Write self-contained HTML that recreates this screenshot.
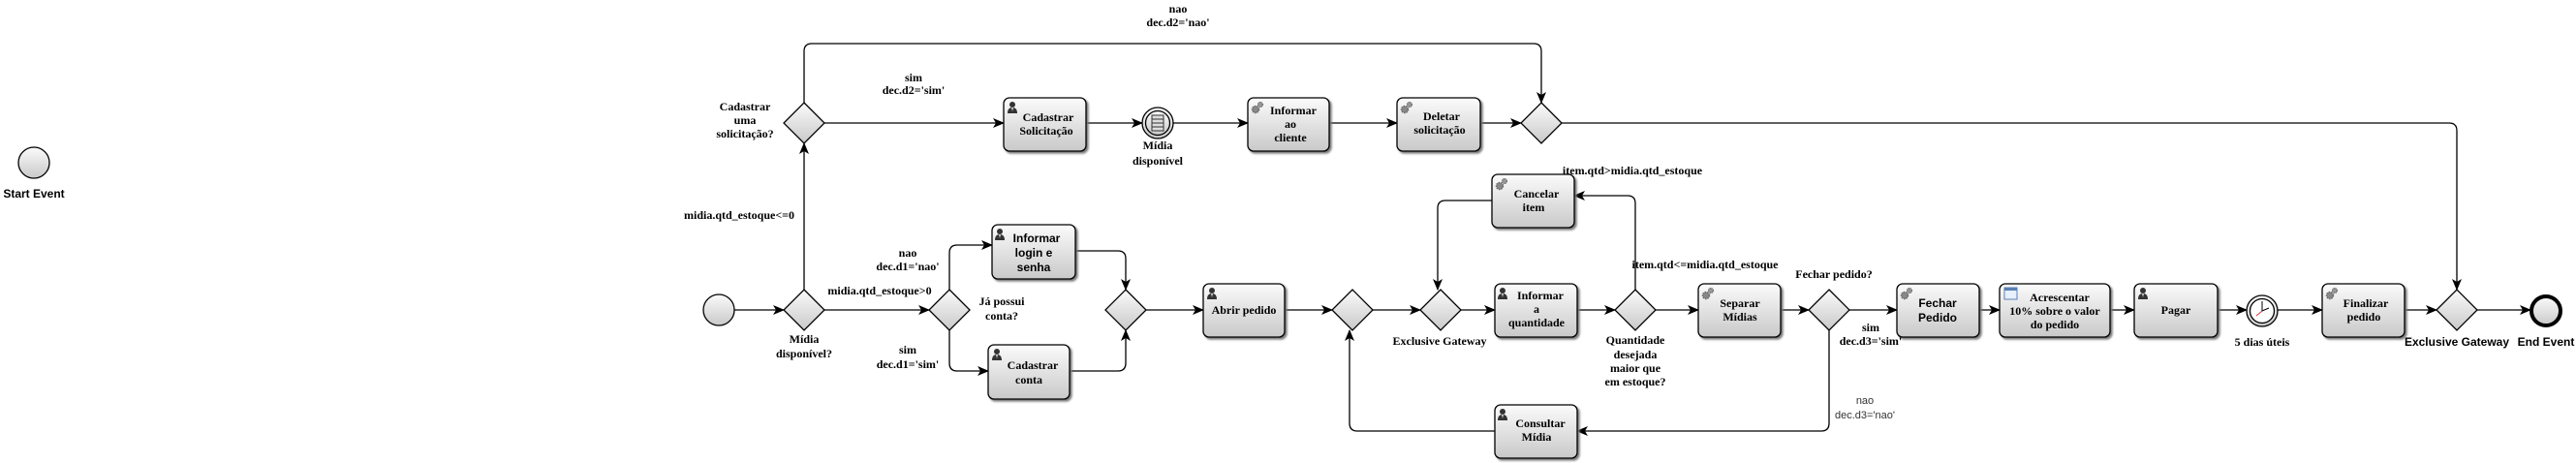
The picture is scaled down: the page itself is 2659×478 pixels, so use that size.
<!DOCTYPE html>
<html><head><meta charset="utf-8"><style>
html,body{margin:0;padding:0;background:#fff;}
svg{display:block;}
.t{font-family:"Liberation Serif",serif;font-weight:bold;font-size:12px;fill:#000;}
.s{font-family:"Liberation Sans",sans-serif;font-weight:bold;font-size:12px;fill:#000;}
.n{font-family:"Liberation Sans",sans-serif;font-size:11px;fill:#333;}
.l{fill:none;stroke:#000;stroke-width:1.3;}
</style></head><body>
<svg width="2659" height="478" viewBox="0 0 2659 478" xmlns="http://www.w3.org/2000/svg">
<defs>
<linearGradient id="g" x1="0" y1="0" x2="0" y2="1"><stop offset="0" stop-color="#fbfbfb"/><stop offset="1" stop-color="#c9c9c9"/></linearGradient>
<marker id="a" markerWidth="12" markerHeight="10" refX="11" refY="5" orient="auto" markerUnits="userSpaceOnUse"><path d="M0,0 L12,5 L0,10 L3,5 Z" fill="#000"/></marker>
<g id="p"><circle cx="5" cy="4" r="3" fill="#333"/><path d="M0,13 Q0,7 5,7 Q10,7 10,13 Z" fill="#333"/><path d="M4,7 L5,11 L6,7 Z" fill="#ddd"/></g>
<g id="gear"><circle cx="4" cy="9" r="3.5" fill="#888" stroke="#666" stroke-width="1.5" stroke-dasharray="1.5 1"/><circle cx="9" cy="4" r="2.5" fill="#999" stroke="#666" stroke-width="1.2" stroke-dasharray="1.2 0.8"/></g>
</defs>

<!-- connectors -->
<g class="l">
<path d="M751,320 L809,320" marker-end="url(#a)"/>
<path d="M830,299 L830,148" marker-end="url(#a)"/>
<path d="M851,320 L959,320" marker-end="url(#a)"/>
<path d="M980,299 L980,261 Q980,253 988,253 L1024,253" marker-end="url(#a)"/>
<path d="M980,341 L980,375 Q980,383 988,383 L1020,383" marker-end="url(#a)"/>
<path d="M1110,259 L1154,259 Q1162,259 1162,267 L1162,299" marker-end="url(#a)"/>
<path d="M1104,383 L1154,383 Q1162,383 1162,375 L1162,341" marker-end="url(#a)"/>
<path d="M1183,320 L1242,320" marker-end="url(#a)"/>
<path d="M1326,320 L1375,320" marker-end="url(#a)"/>
<path d="M1417,320 L1466,320" marker-end="url(#a)"/>
<path d="M1508,320 L1543,320" marker-end="url(#a)"/>
<path d="M1628,320 L1667,320" marker-end="url(#a)"/>
<path d="M1709,320 L1753,320" marker-end="url(#a)"/>
<path d="M1688,299 L1688,210 Q1688,202 1680,202 L1625,202" marker-end="url(#a)"/>
<path d="M1540,207 L1492,207 Q1484,207 1484,215 L1484,299" marker-end="url(#a)"/>
<path d="M1838,320 L1867,320" marker-end="url(#a)"/>
<path d="M1909,320 L1958,320" marker-end="url(#a)"/>
<path d="M1888,341 L1888,437 Q1888,445 1880,445 L1628,445" marker-end="url(#a)"/>
<path d="M1543,445 L1401,445 Q1393,445 1393,437 L1393,341" marker-end="url(#a)"/>
<path d="M2043,320 L2064,320" marker-end="url(#a)"/>
<path d="M2178,320 L2203,320" marker-end="url(#a)"/>
<path d="M2289,320 L2319,320" marker-end="url(#a)"/>
<path d="M2351,320 L2397,320" marker-end="url(#a)"/>
<path d="M2482,320 L2515,320" marker-end="url(#a)"/>
<path d="M2557,320 L2612,320" marker-end="url(#a)"/>
<path d="M851,127 L1036,127" marker-end="url(#a)"/>
<path d="M1121,127 L1179,127" marker-end="url(#a)"/>
<path d="M1211,127 L1288,127" marker-end="url(#a)"/>
<path d="M1372,127 L1442,127" marker-end="url(#a)"/>
<path d="M1528,127 L1570,127" marker-end="url(#a)"/>
<path d="M830,106 L830,53 Q830,45 838,45 L1583,45 Q1591,45 1591,53 L1591,106" marker-end="url(#a)"/>
<path d="M1612,127 L2528,127 Q2536,127 2536,135 L2536,299" marker-end="url(#a)"/>
</g>

<!-- events -->
<g stroke="#000" stroke-width="1.3" fill="url(#g)">
<circle cx="35" cy="168" r="16"/>
<circle cx="742" cy="320" r="16"/>
<circle cx="1195" cy="127" r="16"/><circle cx="1195" cy="127" r="12.5"/>
<circle cx="2335" cy="321" r="16"/><circle cx="2335" cy="321" r="12.5" fill="#fff"/>
<circle cx="2628" cy="321" r="15" stroke-width="4"/>
</g>
<g stroke="#333" stroke-width="1" fill="#ddd"><rect x="1189" y="119" width="12" height="16"/><path d="M1189,123 H1201 M1189,127 H1201 M1189,131 H1201"/></g>
<g stroke="#000" stroke-width="1"><path d="M2335,311 V321 L2342,318" fill="none"/><path d="M2335,321 L2329,326" stroke="#d33"/></g>

<!-- gateways -->
<g stroke="#000" stroke-width="1.3" fill="url(#g)">
<path d="M830,106 L851,127 L830,148 L809,127 Z"/>
<path d="M1591,106 L1612,127 L1591,148 L1570,127 Z"/>
<path d="M830,299 L851,320 L830,341 L809,320 Z"/>
<path d="M980,299 L1001,320 L980,341 L959,320 Z"/>
<path d="M1162,299 L1183,320 L1162,341 L1141,320 Z"/>
<path d="M1396,299 L1417,320 L1396,341 L1375,320 Z"/>
<path d="M1487,299 L1508,320 L1487,341 L1466,320 Z"/>
<path d="M1688,299 L1709,320 L1688,341 L1667,320 Z"/>
<path d="M1888,299 L1909,320 L1888,341 L1867,320 Z"/>
<path d="M2536,299 L2557,320 L2536,341 L2515,320 Z"/>
</g>

<!-- tasks -->
<g stroke="#000" stroke-width="1.3" fill="url(#g)" style="filter:drop-shadow(2px 2px 1px #777)">
<rect x="1036" y="101" width="85" height="55" rx="6"/>
<rect x="1288" y="101" width="84" height="55" rx="6"/>
<rect x="1442" y="101" width="86" height="55" rx="6"/>
<rect x="1024" y="232" width="86" height="56" rx="6"/>
<rect x="1020" y="356" width="84" height="56" rx="6"/>
<rect x="1242" y="293" width="84" height="55" rx="6"/>
<rect x="1540" y="180" width="85" height="55" rx="6"/>
<rect x="1543" y="293" width="85" height="55" rx="6"/>
<rect x="1753" y="293" width="85" height="55" rx="6"/>
<rect x="1543" y="418" width="85" height="55" rx="6"/>
<rect x="1958" y="293" width="85" height="55" rx="6"/>
<rect x="2064" y="293" width="114" height="55" rx="6"/>
<rect x="2203" y="293" width="86" height="55" rx="6"/>
<rect x="2397" y="293" width="85" height="55" rx="6"/>
</g>
<use href="#p" x="1040" y="104"/><use href="#gear" x="1292" y="104"/><use href="#gear" x="1446" y="104"/>
<use href="#p" x="1027" y="235"/><use href="#p" x="1024" y="359"/><use href="#p" x="1246" y="296"/>
<use href="#gear" x="1544" y="183"/><use href="#p" x="1546" y="296"/><use href="#gear" x="1757" y="296"/>
<use href="#p" x="1546" y="421"/><use href="#gear" x="1962" y="296"/><use href="#p" x="2207" y="296"/><use href="#gear" x="2401" y="296"/>
<g><rect x="2069" y="297" width="13" height="12" fill="#e8f0ff" stroke="#5a7fb5"/><rect x="2069" y="297" width="13" height="3" fill="#5a7fb5"/></g>

<!-- task labels -->
<g class="t" text-anchor="middle">
<text x="1082" y="125">Cadastrar</text><text x="1080" y="139">Solicitação</text>
<text x="1335" y="118">Informar</text><text x="1332" y="132">ao</text><text x="1332" y="146">cliente</text>
<text x="1488" y="124">Deletar</text><text x="1486" y="138">solicitação</text>
<text x="1066" y="381">Cadastrar</text><text x="1062" y="396">conta</text>
<text x="1284" y="324">Abrir pedido</text>
<text x="1586" y="204">Cancelar</text><text x="1583" y="218">item</text>
<text x="1590" y="309">Informar</text><text x="1586" y="323">a</text><text x="1586" y="337">quantidade</text>
<text x="1796" y="317">Separar</text><text x="1796" y="331">Mídias</text>
<text x="1590" y="441">Consultar</text><text x="1586" y="455">Mídia</text>
<text x="2126" y="311">Acrescentar</text><text x="2121" y="325">10% sobre o valor</text><text x="2121" y="339">do pedido</text>
<text x="2246" y="324">Pagar</text>
<text x="2442" y="317">Finalizar</text><text x="2440" y="331">pedido</text>
</g>
<g class="s" text-anchor="middle">
<text x="1070" y="250">Informar</text><text x="1067" y="265">login e</text><text x="1067" y="280">senha</text>
<text x="2000" y="317">Fechar</text><text x="2000" y="332">Pedido</text>
<text x="35" y="204">Start Event</text>
<text x="2536" y="357">Exclusive Gateway</text>
<text x="2628" y="357">End Event</text>
</g>

<!-- other labels -->
<g class="t" text-anchor="middle">
<text x="1216" y="13">nao</text><text x="1216" y="27">dec.d2='nao'</text>
<text x="943" y="84">sim</text><text x="943" y="97">dec.d2='sim'</text>
<text x="769" y="114">Cadastrar</text><text x="769" y="128">uma</text><text x="769" y="142">solicitação?</text>
<text x="763" y="226">midia.qtd_estoque&lt;=0</text>
<text x="830" y="354">Mídia</text><text x="830" y="369">disponível?</text>
<text x="908" y="304">midia.qtd_estoque&gt;0</text>
<text x="937" y="265">nao</text><text x="937" y="279">dec.d1='nao'</text>
<text x="937" y="365">sim</text><text x="937" y="380">dec.d1='sim'</text>
<text x="1034" y="315">Já possui</text><text x="1034" y="330">conta?</text>
<text x="1195" y="154">Mídia</text><text x="1195" y="170">disponível</text>
<text x="1685" y="180">item.qtd&gt;midia.qtd_estoque</text>
<text x="1486" y="356">Exclusive Gateway</text>
<text x="1760" y="277">item.qtd&lt;=midia.qtd_estoque</text>
<text x="1688" y="355">Quantidade</text><text x="1688" y="370">desejada</text><text x="1688" y="384">maior que</text><text x="1688" y="398">em estoque?</text>
<text x="1893" y="287">Fechar pedido?</text>
<text x="1931" y="342">sim</text><text x="1931" y="356">dec.d3='sim'</text>
<text x="2335" y="357">5 dias úteis</text>
</g>
<g class="n" text-anchor="middle"><text x="1925" y="417">nao</text><text x="1925" y="432">dec.d3='nao'</text></g>
</svg>
</body></html>
